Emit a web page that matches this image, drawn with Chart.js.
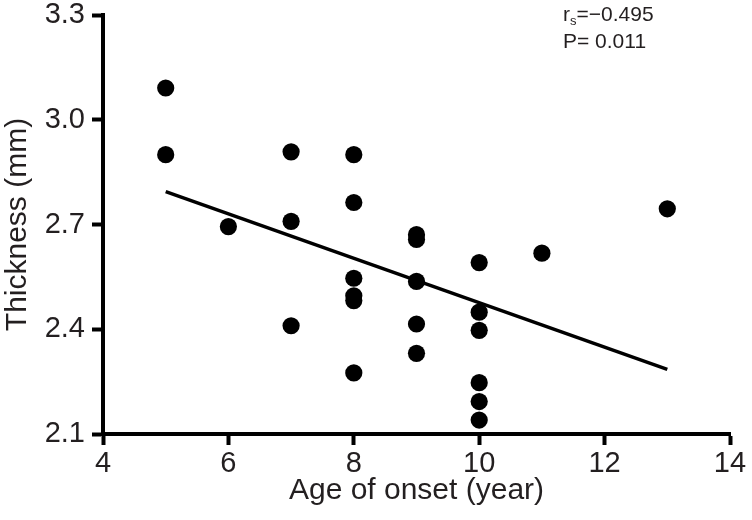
<!DOCTYPE html>
<html>
<head>
<meta charset="utf-8">
<script src="https://cdn.jsdelivr.net/npm/chart.js@4.4.1/dist/chart.umd.min.js"></script>
<style>
    html, body { margin: 0; padding: 0; background: #fff; }
    #wrap { width: 752px; height: 520px; }
</style>
</head>
<body>
<div id="wrap"><canvas id="scatterChart" width="752" height="520"></canvas></div>
<script>
// age of onset (year) for each patient
const ageOfOnset = [5, 5, 6, 7, 7, 7, 8, 8, 8, 8, 8, 8, 9, 9, 9, 9, 9, 10, 10, 10, 10, 10, 10, 11, 13];
// thickness (mm)
const thickness = [3.091, 2.900, 2.694, 2.908, 2.709, 2.410, 2.900, 2.763, 2.546, 2.496, 2.482, 2.275,
    2.671, 2.657, 2.537, 2.415, 2.331, 2.591, 2.449, 2.397, 2.247, 2.193, 2.140, 2.618, 2.745];
// regression line end points
const fitX = [5, 13];
const fitY = [2.794, 2.285];

const xTicks = [4, 6, 8, 10, 12, 14];
const yTicks = [2.1, 2.4, 2.7, 3.0, 3.3];

const statLines = ['r', 's', '=\u22120.495', 'P= 0.011'];

const FONT = "'Liberation Sans', Arial, Helvetica, sans-serif";
const INK = '#231f20';

const statsLabel = {
    id: 'statsLabel',
    afterDraw: (chart) => {
        const ctx = chart.ctx;
        ctx.save();
        ctx.fillStyle = INK;
        ctx.textBaseline = 'alphabetic';
        ctx.textAlign = 'left';
        let x = 563;
        ctx.font = `21px ${FONT}`;
        ctx.fillText(statLines[0], x, 21);
        x += ctx.measureText(statLines[0]).width;
        ctx.font = `13px ${FONT}`;
        ctx.fillText(statLines[1], x, 25);
        x += ctx.measureText(statLines[1]).width;
        ctx.font = `21px ${FONT}`;
        ctx.fillText(statLines[2], x, 21);
        ctx.fillText(statLines[3], 563, 48);
        ctx.restore();
    }
};

const points = ageOfOnset.map((a, i) => ({ x: a, y: thickness[i] }));
const fitLine = fitX.map((a, i) => ({ x: a, y: fitY[i] }));

new Chart(document.getElementById('scatterChart').getContext('2d'), {
    type: 'scatter',
    data: {
        datasets: [{
            type: 'line',
            label: 'fit',
            data: fitLine,
            borderColor: '#000',
            borderWidth: 3.5,
            pointRadius: 0,
            fill: false
        }, {
            label: 'Thickness',
            data: points,
            backgroundColor: '#000',
            borderColor: '#000',
            borderWidth: 0,
            pointRadius: 8.6
        }]
    },
    plugins: [statsLabel],
    options: {
        responsive: false,
        animation: false,
        devicePixelRatio: 1,
        layout: {
            padding: { top: 15, right: 22, left: 0, bottom: 0 }
        },
        plugins: {
            legend: { display: false },
            tooltip: { enabled: false }
        },
        scales: {
            x: {
                type: 'linear',
                min: 4,
                max: 14,
                afterBuildTicks: (scale) => { scale.ticks = xTicks.map(v => ({ value: v })); },
                afterFit: (scale) => {
                    scale.height = 86;
                    scale.paddingLeft = 0;
                    scale.paddingRight = 0;
                },
                border: { display: true, color: '#000', width: 4 },
                grid: {
                    drawOnChartArea: false,
                    drawTicks: true,
                    tickLength: 11,
                    tickWidth: 4,
                    tickColor: '#000'
                },
                ticks: {
                    color: INK,
                    padding: 2,
                    font: { family: FONT, size: 29 }
                },
                title: {
                    display: true,
                    text: 'Age of onset (year)',
                    color: INK,
                    font: { family: FONT, size: 30 },
                    padding: { top: 0, bottom: 11 }
                }
            },
            y: {
                type: 'linear',
                min: 2.1,
                max: 3.3,
                afterBuildTicks: (scale) => { scale.ticks = yTicks.map(v => ({ value: v })); },
                afterFit: (scale) => {
                    scale.width = 103;
                    scale.paddingTop = 0;
                    scale.paddingBottom = 0;
                },
                border: { display: true, color: '#000', width: 4 },
                grid: {
                    drawOnChartArea: false,
                    drawTicks: true,
                    tickLength: 11,
                    tickWidth: 4,
                    tickColor: '#000'
                },
                ticks: {
                    color: INK,
                    padding: 7,
                    font: { family: FONT, size: 29 },
                    callback: (v) => Number(v).toFixed(1)
                },
                title: {
                    display: true,
                    text: 'Thickness (mm)',
                    color: INK,
                    font: { family: FONT, size: 30 },
                    padding: { top: 0, bottom: 0 }
                }
            }
        }
    }
});
</script>
</body>
</html>
